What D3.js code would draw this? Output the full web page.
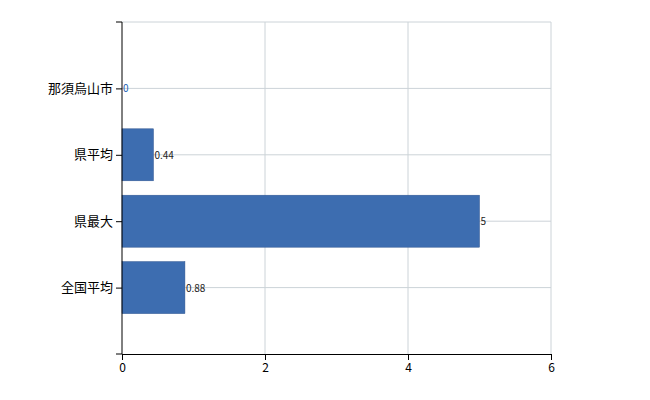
<!DOCTYPE html>
<html><head><meta charset="utf-8">
<script src="https://cdn.jsdelivr.net/npm/d3@7"></script>
<style>body{margin:0;background:#fff}</style>
</head><body><svg id="c" width="650" height="400"></svg>
<script>
const categories = ["那須烏山市","県平均","県最大","全国平均"];
const values = [0, 0.44, 5, 0.88];
const labels = ["0","0.44","5","0.88"];
const xTicks = [0,2,4,6];

const svg = d3.select("#c");
const font = "'Noto Sans CJK JP', 'Noto Sans', sans-serif";
const x = d3.scaleLinear().domain([0,6]).range([122,551]);
const y = d3.scalePoint().domain(categories).range([22,354]).padding(1);
const bh = 52;

const g = svg.append("g");
// grid
g.selectAll(".vg").data(xTicks.slice(1)).enter().append("line")
 .attr("x1",d=>x(d)).attr("x2",d=>x(d)).attr("y1",22).attr("y2",354)
 .attr("stroke","#ccd3d8").attr("stroke-width",1);
g.selectAll(".hg").data(categories).enter().append("line")
 .attr("x1",122).attr("x2",551).attr("y1",d=>y(d)).attr("y2",d=>y(d))
 .attr("stroke","#ccd3d8");
g.append("line").attr("x1",122).attr("x2",551).attr("y1",22).attr("y2",22).attr("stroke","#ccd3d8");

// bars
g.selectAll("rect").data(values).enter().append("rect")
 .attr("x",x(0)).attr("y",(d,i)=>y(categories[i])-bh/2)
 .attr("width",d=>x(d)-x(0)).attr("height",bh)
 .attr("fill","#3d6db0").attr("stroke","#2f5590").attr("stroke-width",0.5);
g.selectAll(".lab").data(values).enter().append("text")
 .attr("x",d=>x(d)+1).attr("y",(d,i)=>y(categories[i])+4)
 .attr("font-size",10).attr("font-family",font)
 .attr("fill",(d,i)=>i===0?"#1a5fb4":"#222").text((d,i)=>labels[i]);

// axes
const xa = svg.append("g").attr("transform","translate(0,354)")
 .call(d3.axisBottom(x).tickValues(xTicks).tickSize(6).tickFormat(d3.format("d")));
const ya = svg.append("g").attr("transform","translate(122,0)")
 .call(d3.axisLeft(y).tickSize(6).tickSizeOuter(6));
ya.select(".domain").attr("d","M-6,22H0V354H-6");
[xa,ya].forEach(a=>{a.selectAll("text").attr("font-size",13).attr("font-family",font).attr("fill","#000");
 a.selectAll("line,path").attr("stroke","#000");});
xa.selectAll("text").attr("font-size",12);
</script></body></html>
